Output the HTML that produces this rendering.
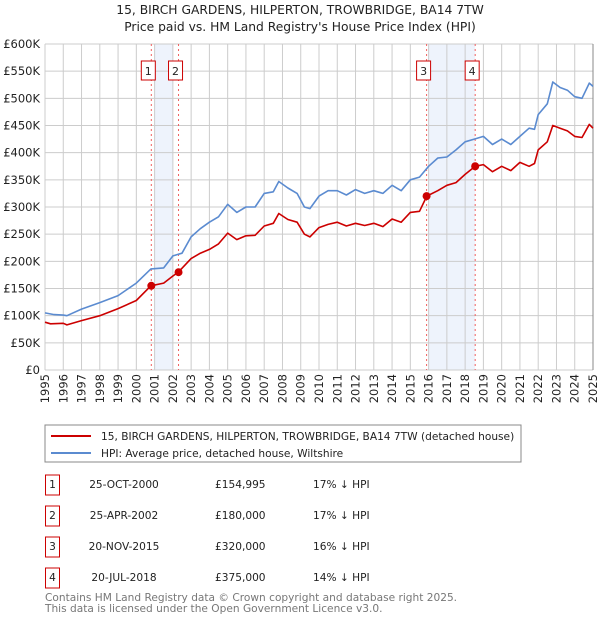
<!DOCTYPE html>
<html><head><meta charset="utf-8"><style>
body{margin:0;background:#fff;font-family:"Liberation Sans","DejaVu Sans",sans-serif;}
svg text{font-family:"DejaVu Sans","Liberation Sans",sans-serif;}
</style></head><body>
<svg id="c" width="600" height="620" xmlns="http://www.w3.org/2000/svg">
<text x="300" y="14" text-anchor="middle" font-size="12.3" fill="#222">15, BIRCH GARDENS, HILPERTON, TROWBRIDGE, BA14 7TW</text>
<text x="300" y="31" text-anchor="middle" font-size="12.3" fill="#222">Price paid vs. HM Land Registry's House Price Index (HPI)</text>
<g id="plot"></g>
<g>
<rect x="45" y="425" width="476" height="37" fill="#fff" stroke="#888"/>
<line x1="51" y1="436" x2="91" y2="436" stroke="#cc0000" stroke-width="2"/>
<text x="101" y="440" font-size="10.6" fill="#222">15, BIRCH GARDENS, HILPERTON, TROWBRIDGE, BA14 7TW (detached house)</text>
<line x1="51" y1="453" x2="91" y2="453" stroke="#5b8bd0" stroke-width="2"/>
<text x="101" y="457" font-size="10.6" fill="#222">HPI: Average price, detached house, Wiltshire</text>
</g>
<g id="table" font-size="10.6" fill="#222"></g>
<text x="45" y="601" font-size="10.6" fill="#777">Contains HM Land Registry data © Crown copyright and database right 2025.</text>
<text x="45" y="612" font-size="10.6" fill="#777">This data is licensed under the Open Government Licence v3.0.</text>
</svg>
<script>
const yTicks=[0,50,100,150,200,250,300,350,400,450,500,550,600];
const yTickLabels=["£0","£50K","£100K","£150K","£200K","£250K","£300K","£350K","£400K","£450K","£500K","£550K","£600K"];
const years=[1995,1996,1997,1998,1999,2000,2001,2002,2003,2004,2005,2006,2007,2008,2009,2010,2011,2012,2013,2014,2015,2016,2017,2018,2019,2020,2021,2022,2023,2024,2025];
const hpiT=[1995,1995.5,1996,1996.2,1997,1998,1999,2000,2000.8,2001.5,2002,2002.5,2003,2003.5,2004,2004.5,2005,2005.5,2006,2006.5,2007,2007.5,2007.8,2008.3,2008.8,2009.2,2009.5,2010,2010.5,2011,2011.5,2012,2012.5,2013,2013.5,2014,2014.5,2015,2015.5,2016,2016.5,2017,2017.5,2018,2018.5,2019,2019.5,2020,2020.5,2021,2021.5,2021.8,2022,2022.5,2022.8,2023.2,2023.6,2024,2024.4,2024.8,2025];
const hpiV=[105,102,101,100,112,124,137,160,186,188,210,215,245,260,272,282,305,290,300,300,325,328,347,335,325,300,297,320,330,330,322,332,325,330,325,340,330,350,355,375,390,392,405,420,425,430,415,425,415,430,445,443,470,490,530,520,515,503,500,528,522];
const redT=[1995,1995.3,1996,1996.2,1997,1998,1999,2000,2000.8,2001.5,2002,2002.3,2003,2003.5,2004,2004.5,2005,2005.5,2006,2006.5,2007,2007.5,2007.8,2008.3,2008.8,2009.2,2009.5,2010,2010.5,2011,2011.5,2012,2012.5,2013,2013.5,2014,2014.5,2015,2015.5,2015.9,2016.5,2017,2017.5,2018,2018.55,2019,2019.5,2020,2020.5,2021,2021.5,2021.8,2022,2022.5,2022.8,2023.2,2023.6,2024,2024.4,2024.8,2025];
const redV=[88,85,86,83,91,100,113,128,155,160,173,180,205,215,222,232,252,240,247,248,265,270,288,277,272,250,245,262,268,272,265,270,266,270,264,278,272,290,292,320,330,340,345,360,375,378,365,375,367,382,375,380,405,420,450,445,440,430,428,452,445];
const saleT=[2000.82,2002.31,2015.89,2018.55];
const saleV=[155,180,320,375];
const saleLabels=["1","2","3","4"];
const saleDates=["25-OCT-2000","25-APR-2002","20-NOV-2015","20-JUL-2018"];
const salePrices=["£154,995","£180,000","£320,000","£375,000"];
const saleHpi=["17% ↓ HPI","17% ↓ HPI","16% ↓ HPI","14% ↓ HPI"];

const X0=45,X1=593,Y0=370,Y1=44;
const xs=t=>X0+(t-1995)/30*(X1-X0);
const ys=v=>Y0-v/600*(Y0-Y1);
const NS="http://www.w3.org/2000/svg";
const plot=document.getElementById('plot');
function mk(tag,at,parent){const e=document.createElementNS(NS,tag);for(const k in at)e.setAttribute(k,at[k]);(parent||plot).appendChild(e);return e;}

let b=mk('rect',{x:xs(2001),y:Y1,width:xs(2002)-xs(2001),height:Y0-Y1,fill:'#eef3fc'});


b=mk('rect',{x:xs(2016),y:Y1,width:xs(saleT[3])-xs(2016),height:Y0-Y1,fill:'#eef3fc'});



yTicks.forEach((v,i)=>{
 let l=mk('line',{x1:X0,x2:X1,y1:ys(v),y2:ys(v),stroke:'#ccc','stroke-width':1});
 
 
 let t=mk('text',{x:40,y:ys(v)+4,'text-anchor':'end','font-size':'11.5',fill:'#222'});
 
 
 t.textContent=yTickLabels[i];
});
years.forEach(y=>{
 let l=mk('line',{x1:xs(y),x2:xs(y),y1:Y1,y2:Y0,stroke:'#ccc','stroke-width':1});
 
 
 let t=mk('text',{x:0,y:0,'text-anchor':'end','font-size':'11.5',fill:'#222',transform:`translate(${xs(y)+4},374) rotate(-90)`});
 
 
 t.textContent=y;
});
let ax=mk('line',{x1:X1,x2:X1,y1:Y1,y2:Y0,stroke:'#888'});



saleT.forEach((t,i)=>{
 let l=mk('line',{x1:xs(t),x2:xs(t),y1:Y1,y2:Y0,stroke:'#f06060','stroke-width':1,'stroke-dasharray':'2,3'});
 
 
 const bx=xs(t)-10;
 let r=mk('rect',{x:bx,y:61,width:14,height:19,fill:'#fff',stroke:'#cc0000'});
 
 
 let tx=mk('text',{x:bx+7,y:75,'text-anchor':'middle','font-size':'11',fill:'#222'});
 
 
 tx.textContent=saleLabels[i];
});

function line(T,V,color,name){
 const d=T.map((t,i)=>(i?'L':'M')+xs(t).toFixed(1)+','+ys(V[i]).toFixed(1)).join('');
 const p=mk('path',{d:d,fill:'none',stroke:color,'stroke-width':1.6,'stroke-linejoin':'round'});
 
 
}
line(hpiT,hpiV,'#5b8bd0','hpi-line');
line(redT,redV,'#cc0000','property-price-line');
saleT.forEach((t,i)=>{
 const c=mk('circle',{cx:xs(t),cy:ys(saleV[i]),r:4,fill:'#cc0000'});
 
 
});

const tb=document.getElementById('table');
saleLabels.forEach((s,i)=>{
 const y=484+i*31;
 let r=mk('rect',{x:45.5,y:y-9,width:14,height:20,fill:'#fff',stroke:'#cc0000'},tb);
 
 
 const cells=[[52.5,s,'middle'],[124,saleDates[i],'middle'],[215,salePrices[i],'start'],[313,saleHpi[i],'start']];
 cells.forEach((c,j)=>{
  let t=mk('text',{x:c[0],y:y+4,'text-anchor':c[2]},tb);
  
  
  t.textContent=c[1];
 });
});
</script>
</body></html>
